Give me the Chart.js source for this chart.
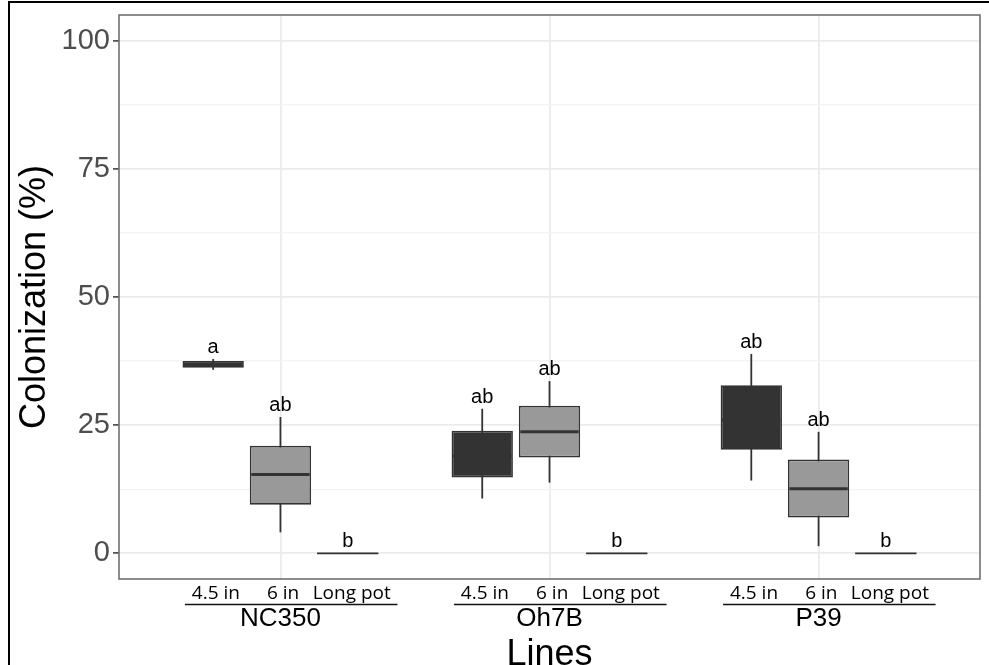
<!DOCTYPE html>
<html>
<head>
<meta charset="utf-8">
<script src="https://cdn.jsdelivr.net/npm/chart.js@4"></script>
<style>
  body { margin: 0; background: #fff; }
  canvas { display: block; }
</style>
</head>
<body>
<canvas id="boxChart" width="989" height="665"></canvas>
<script>
// categories
const lines = ['NC350', 'Oh7B', 'P39'];
const pots = ['4.5 in', '6 in', 'Long pot'];

// box stats, one row per pot type, one value per line
const whiskerLow = [[35.8, 10.7, 14.2], [4.1, 13.8, 1.4], [0, 0, 0]];
const q1 = [[36.2, 14.8, 20.2], [9.5, 18.7, 7.0], [0, 0, 0]];
const median = [[36.9, 19.0, 26.0], [15.4, 23.7, 12.6], [0, 0, 0]];
const q3 = [[37.5, 23.9, 32.8], [21.0, 28.8, 18.3], [0, 0, 0]];
const whiskerHigh = [[37.9, 28.2, 38.9], [26.6, 33.6, 23.7], [0, 0, 0]];

// significance letters
const letters = [['a', 'ab', 'ab'], ['ab', 'ab', 'ab'], ['b', 'b', 'b']];

// y axis
const yTicks = [0, 25, 50, 75, 100];
const yGrid = [0, 12.5, 25, 37.5, 50, 62.5, 75, 87.5, 100];

// dodge layout
const dodge = [-0.25, 0, 0.25];
const boxWidth = 0.228;
const subLabelShift = [0.01, 0.01, 0.015];
const fills = ['#333333', '#999999'];
const ink = '#333333';

const boxPlugin = {
    id: 'boxParts',
    beforeDatasetsDraw(chart) {
        const { ctx, scales: { x, y } } = chart;
        ctx.save();
        ctx.strokeStyle = ink;
        ctx.lineWidth = 1.8;
        for (let p = 0; p < 2; p++) {
            lines.forEach((_, i) => {
                const cx = x.getPixelForValue(i + dodge[p]);
                ctx.beginPath();
                ctx.moveTo(cx, y.getPixelForValue(whiskerLow[p][i]));
                ctx.lineTo(cx, y.getPixelForValue(whiskerHigh[p][i]));
                ctx.stroke();
            });
        }
        ctx.restore();
    },
    afterDatasetsDraw(chart) {
        const { ctx, scales: { x, y } } = chart;
        ctx.save();
        ctx.strokeStyle = ink;
        pots.forEach((_, p) => {
            lines.forEach((_, i) => {
                const c = i + dodge[p];
                const flat = q1[p][i] === q3[p][i];
                ctx.lineWidth = flat ? 1.8 : 3;
                const my = y.getPixelForValue(median[p][i]);
                const inset = flat ? 0 : 1.5;
                ctx.beginPath();
                ctx.moveTo(x.getPixelForValue(c - boxWidth / 2) + inset, my);
                ctx.lineTo(x.getPixelForValue(c + boxWidth / 2) - inset, my);
                ctx.stroke();

                ctx.fillStyle = '#000';
                ctx.font = '20px "Liberation Sans", Arial, sans-serif';
                ctx.textAlign = 'center';
                ctx.textBaseline = 'alphabetic';
                ctx.fillText(letters[p][i], x.getPixelForValue(c), y.getPixelForValue(whiskerHigh[p][i]) - 6);
            });
        });
        ctx.restore();
    },
    afterDraw(chart) {
        const { ctx, chartArea: a, scales: { x } } = chart;
        ctx.save();
        // panel border
        ctx.strokeStyle = '#707070';
        ctx.lineWidth = 1.6;
        ctx.strokeRect(a.left, a.top, a.right - a.left, a.bottom - a.top);

        // x labels: pot names, underline, line names, axis title
        ctx.textAlign = 'center';
        ctx.textBaseline = 'alphabetic';
        lines.forEach((name, i) => {
            ctx.fillStyle = '#000';
            ctx.font = '19px "Open Sans", sans-serif';
            pots.forEach((pot, p) => {
                ctx.fillText(pot, x.getPixelForValue(i + dodge[p] + subLabelShift[p]), a.bottom + 20);
            });
            ctx.strokeStyle = '#111';
            ctx.lineWidth = 1.5;
            ctx.beginPath();
            ctx.moveTo(x.getPixelForValue(i - 0.355), a.bottom + 25.5);
            ctx.lineTo(x.getPixelForValue(i + 0.435), a.bottom + 25.5);
            ctx.stroke();
            ctx.font = '26px "Liberation Sans", Arial, sans-serif';
            ctx.fillText(name, x.getPixelForValue(i), a.bottom + 47);
        });
        ctx.font = '36px "Liberation Sans", Arial, sans-serif';
        ctx.fillText('Lines', x.getPixelForValue(1), a.bottom + 86);

        // outer frame (top and left edges)
        ctx.strokeStyle = '#000';
        ctx.lineWidth = 2;
        ctx.beginPath();
        ctx.moveTo(9, chart.height);
        ctx.lineTo(9, 2);
        ctx.lineTo(chart.width, 2);
        ctx.stroke();
        ctx.restore();
    }
};

const boxDatasets = [0, 1].map(p => ({
    label: pots[p],
    data: lines.map((_, i) => ({ x: i + dodge[p], y: [q1[p][i], q3[p][i]] })),
    backgroundColor: fills[p],
    borderColor: ink,
    borderWidth: 1.7,
    borderSkipped: false,
    grouped: false,
    categoryPercentage: 1,
    barPercentage: boxWidth / 0.25
}));

const ctx = document.getElementById('boxChart').getContext('2d');
new Chart(ctx, {
    type: 'bar',
    data: { datasets: boxDatasets },
    options: {
        responsive: false,
        animation: false,
        layout: { padding: { left: 9, top: 15, right: 9, bottom: 86 } },
        plugins: { legend: { display: false }, tooltip: { enabled: false } },
        scales: {
            x: {
                type: 'linear',
                min: -0.6,
                max: 2.6,
                offset: false,
                afterBuildTicks: s => { s.ticks = lines.map((_, i) => ({ value: i })); },
                afterFit: s => { s.height = 0; },
                ticks: { display: false },
                grid: { color: '#ebebeb', lineWidth: 1.8, drawTicks: false, offset: false },
                border: { display: false }
            },
            y: {
                type: 'linear',
                min: -5,
                max: 105,
                afterBuildTicks: s => { s.ticks = yGrid.map(v => ({ value: v })); },
                afterFit: s => { s.width = 110; s.paddingTop = 0; s.paddingBottom = 0; },
                ticks: {
                    callback: v => (yTicks.includes(v) ? String(v) : ''),
                    color: '#4d4d4d',
                    font: { family: '"Liberation Sans", Arial, sans-serif', size: 29 },
                    padding: 3
                },
                grid: {
                    color: c => (yTicks.includes(c.tick.value) ? '#ebebeb' : '#f3f3f3'),
                    lineWidth: c => (yTicks.includes(c.tick.value) ? 1.8 : 1.2),
                    tickColor: c => (yTicks.includes(c.tick.value) ? ink : 'rgba(0,0,0,0)'),
                    tickWidth: 1.5,
                    tickLength: 6
                },
                border: { display: false },
                title: {
                    display: true,
                    text: 'Colonization (%)',
                    color: '#000',
                    font: { family: '"Liberation Sans", Arial, sans-serif', size: 36 },
                    padding: { top: 4, bottom: 4 }
                }
            }
        }
    },
    plugins: [boxPlugin]
});
</script>
</body>
</html>
